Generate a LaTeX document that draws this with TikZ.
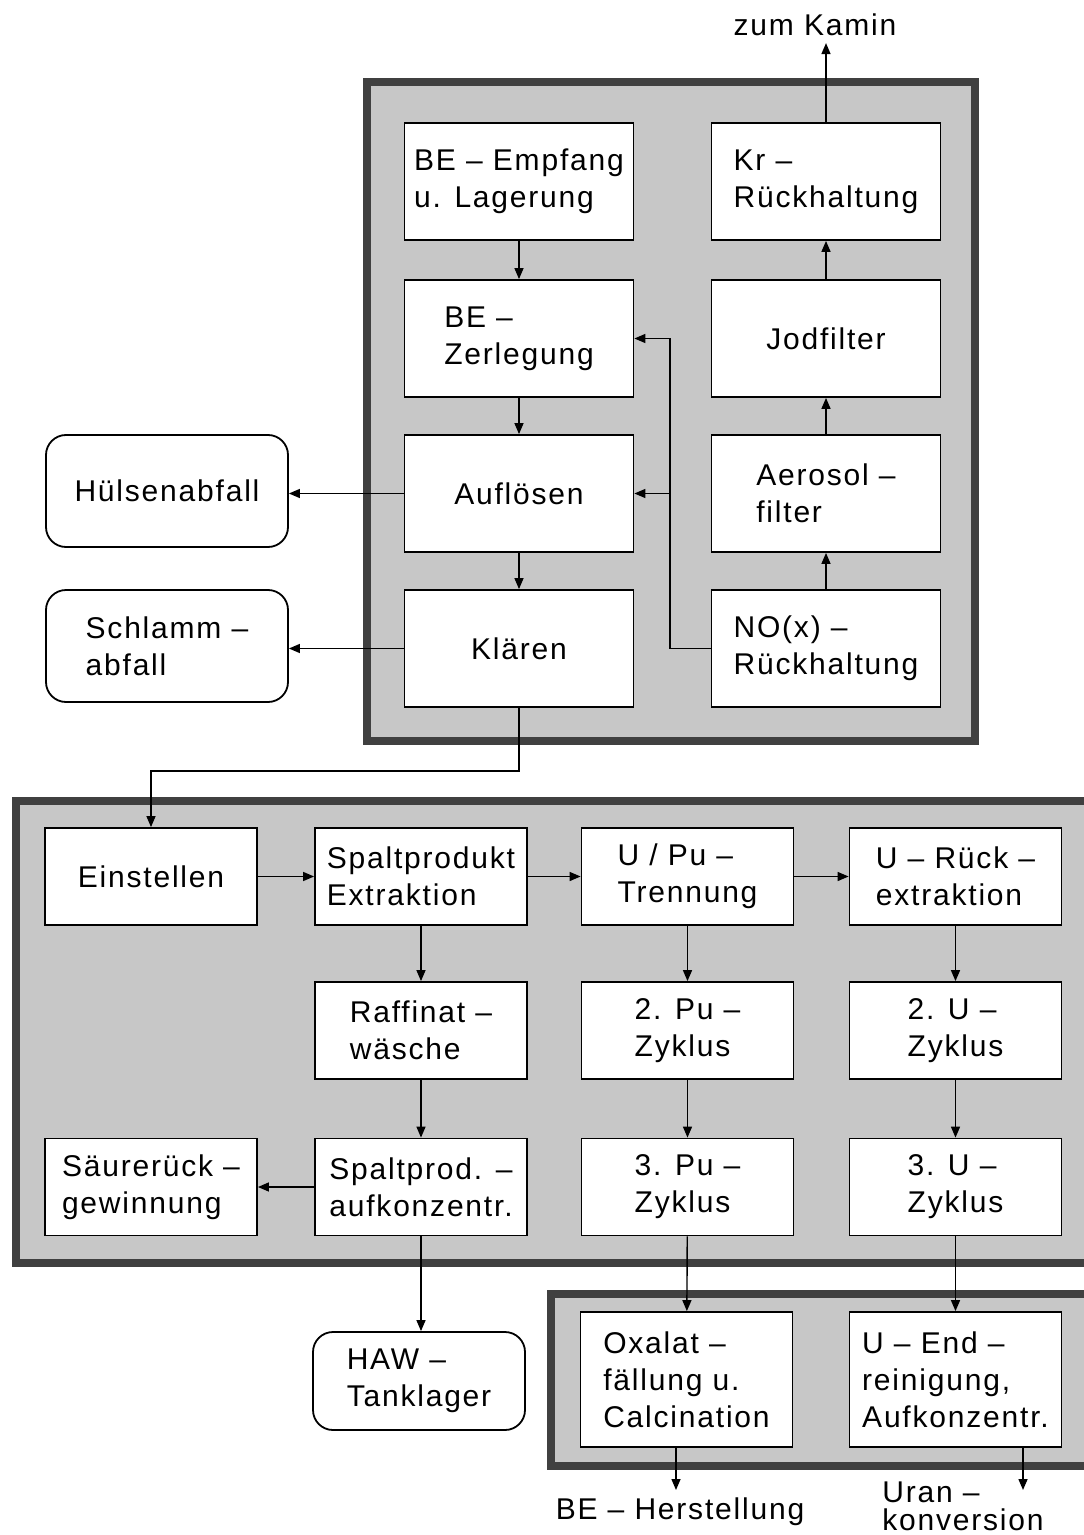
\documentclass[tikz,border=0pt]{standalone}
\usepackage{fontspec}
\setmainfont{Liberation Sans}[LetterSpace=6]
\usetikzlibrary{arrows.meta}
\tikzset{
  frame/.style={draw=black!75, line width=4pt, fill=black!22},
  box/.style={draw, fill=white, line width=0.9pt, align=left, inner sep=2pt},
  topbox/.style={box, minimum width=114.5pt, minimum height=58.5pt},
  midbox/.style={box, minimum width=106pt, minimum height=48.5pt},
  endbox/.style={box, minimum width=106pt, minimum height=67.5pt},
  waste/.style={box, rounded corners=10pt, minimum width=121pt, minimum height=56pt},
  flow/.style={-{Triangle[length=5.5pt,width=4.5pt]}, line width=0.7pt}
}
\begin{document}
\begin{tikzpicture}[x=0.5pt, y=-0.5pt, font=\fontsize{15pt}{18.5pt}\selectfont]
\useasboundingbox (0,0) rectangle (1083,1535);

\draw[frame] (367,82) rectangle (975,741);
\draw[frame] (16,801) rectangle (1110,1263);
\draw[frame] (551,1294) rectangle (1110,1466);

\node[topbox] (emp) at (519,181.5){BE – Empfang\\u. Lagerung};
\node[topbox] (zer) at (519,338.5){BE –\\Zerlegung};
\node[topbox] (aufl) at (519,493.5){Auflösen};
\node[topbox] (klae) at (519,648.5){Klären};
\node[topbox] (kr) at (826,181.5){Kr –\\Rückhaltung};
\node[topbox] (jod) at (826,338.5){Jodfilter};
\node[topbox] (aero) at (826,493.5){Aerosol –\\filter};
\node[topbox] (nox) at (826,648.5){NO(x) –\\Rückhaltung};

\node[waste] (huel) at (167,491){Hülsenabfall};
\node[waste] (schl) at (167,646){Schlamm –\\abfall};

\node (kamin) at (815,25){zum Kamin};

\node[midbox] (einst) at (151,876.5){Einstellen};
\node[midbox] (spex) at (421,876.5){Spaltprodukt\\Extraktion};
\node[midbox] (trenn) at (687.5,876.5){U / Pu –\\Trennung};
\node[midbox] (urex) at (955.5,876.5){U – Rück –\\extraktion};
\node[midbox] (raff) at (421,1030.5){Raffinat –\\wäsche};
\node[midbox] (puz2) at (687.5,1030.5){2. Pu –\\Zyklus};
\node[midbox] (uz2) at (955.5,1030.5){2. U –\\Zyklus};
\node[midbox] (saeure) at (151,1187){Säurerück –\\gewinnung};
\node[midbox] (spauf) at (421,1187){Spaltprod. –\\aufkonzentr.};
\node[midbox] (puz3) at (687.5,1187){3. Pu –\\Zyklus};
\node[midbox] (uz3) at (955.5,1187){3. U –\\Zyklus};

\node[box, rounded corners=10pt, minimum width=106pt, minimum height=49pt] (haw) at (419,1381){HAW –\\Tanklager};
\node[endbox] (oxal) at (686.5,1379.5){Oxalat –\\fällung u.\\Calcination};
\node[endbox] (uend) at (955.5,1379.5){U – End –\\reinigung,\\Aufkonzentr.};

\node (beher) at (680,1512){BE – Herstellung};
\node[align=left, inner sep=0pt, font=\fontsize{15pt}{14pt}\selectfont] (uran) at (963,1506){Uran –\\konversion};

\coordinate (fbx) at (670,0);
\coordinate (beout) at (676,1490);
\coordinate (uout) at (1023,1490);

\draw[flow] (emp) -- (zer);
\draw[flow] (zer) -- (aufl);
\draw[flow] (aufl) -- (klae);
\draw[flow] (nox) -- (aero);
\draw[flow] (aero) -- (jod);
\draw[flow] (jod) -- (kr);
\draw[flow] (kr.north) -- (kr.north |- kamin.south);
\draw[flow] (nox.west) -- (nox.west -| fbx) |- (zer.east);
\draw[flow] (aufl.east -| fbx) -- (aufl.east);
\draw[flow] (aufl.west) -- (huel.east |- aufl.west);
\draw[flow] (klae.west) -- (schl.east |- klae.west);
\draw[flow] (klae.south) -- ++(0,63) -| (einst.north);

\draw[flow] (einst) -- (spex);
\draw[flow] (spex) -- (trenn);
\draw[flow] (trenn) -- (urex);
\draw[flow] (spex) -- (raff);
\draw[flow] (raff) -- (spauf);
\draw[flow] (spauf) -- (saeure);
\draw[flow] (trenn) -- (puz2);
\draw[flow] (puz2) -- (puz3);
\draw[flow] (urex) -- (uz2);
\draw[flow] (uz2) -- (uz3);
\draw[flow] (spauf.south) -- (spauf.south |- haw.north);
\draw[flow] (puz3) -- (oxal);
\draw[flow] (uz3) -- (uend);
\draw[flow] (beout |- oxal.south) -- (beout);
\draw[flow] (uout |- uend.south) -- (uout);

\end{tikzpicture}
\end{document}
